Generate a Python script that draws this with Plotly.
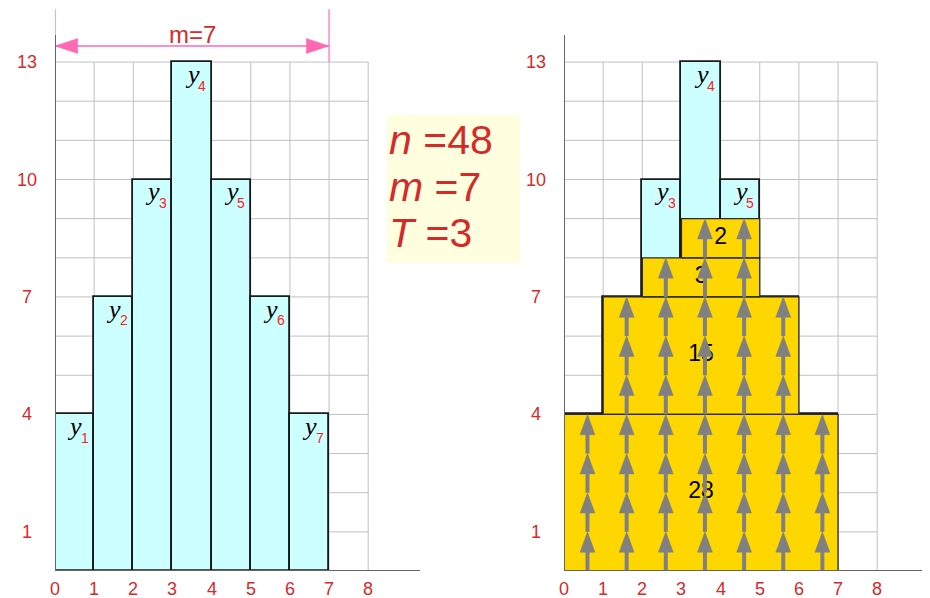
import plotly.graph_objects as go

# ---- data ----
bar_left = [0, 1, 2, 3, 4, 5, 6]
bar_heights = [4, 7, 10, 13, 10, 7, 4]
bar_names = ["1", "2", "3", "4", "5", "6", "7"]

layer_bottom = [0, 4, 7, 8]
layer_top = [4, 7, 8, 9]
layer_left = [0, 1, 2, 3]
layer_right = [7, 6, 5, 5]
layer_counts = [28, 15, 3, 2]
layer_label_x = [3.5, 3.5, 3.5, 4.0]

x_ticks = [0, 1, 2, 3, 4, 5, 6, 7, 8]
y_ticks = [1, 4, 7, 10, 13]
grid_x_max = 8
grid_y_max = 13

n_val, m_val, T_val = 48, 7, 3

# ---- style ----
OFF = 8                      # page body margin
W, H = 930 - OFF, 598 - OFF  # figure size
U = 39.15                    # pixels per unit
Y0 = 571 - OFF               # pixel of y=0 (figure coords)
LX0, RX0 = 55 - OFF, 564 - OFF
LXR = 420 - OFF              # right end of left axis
RED = "#d42a2a"
SUBRED = "#ff2020"
GRID = "#c0c0c0"
AXIS = "#666666"
CYAN = "#ccffff"
GOLD = "#ffd700"
ARROW = "#808080"
PINK = "#ff69b4"
FONT = "Liberation Sans"
SERIF = "Liberation Serif"


def px_y(p):
    """reference pixel row -> paper fraction"""
    return (H - (p - OFF)) / H


def px_x(p):
    return (p - OFF) / W


fig = go.Figure()

# cyan bars in both panels
for xa, ya in (("x", "y"), ("x2", "y2")):
    fig.add_trace(go.Bar(
        x=[b + 0.5 for b in bar_left], y=bar_heights, width=1,
        marker=dict(color=CYAN, line=dict(color="#1a1a1a", width=1.8)),
        xaxis=xa, yaxis=ya, showlegend=False, hoverinfo="skip"))

# gold layers (right panel)
gx, gy = [], []
for b, t, l, r in zip(layer_bottom, layer_top, layer_left, layer_right):
    gx += [l, r, r, l, l, None]
    gy += [b, b, t, t, b, None]
fig.add_trace(go.Scatter(x=gx, y=gy, mode="lines", fill="toself", fillcolor=GOLD,
                         line=dict(color="#2a2a2a", width=1.3),
                         xaxis="x2", yaxis="y2", showlegend=False, hoverinfo="skip"))

# layer counts
fig.add_trace(go.Scatter(
    x=layer_label_x, y=[(b + t) / 2 for b, t in zip(layer_bottom, layer_top)],
    mode="text", text=[str(c) for c in layer_counts],
    textfont=dict(family=FONT, size=23, color="black"),
    xaxis="x2", yaxis="y2", showlegend=False, hoverinfo="skip"))

# column heights of the gold stack
col_top = []
for i, l0 in enumerate(bar_left):
    top = 0
    for b, t, l, r in zip(layer_bottom, layer_top, layer_left, layer_right):
        if l <= l0 and l0 + 1 <= r:
            top = max(top, t)
    col_top.append(top)

# arrows
hl, hw = 0.52, 0.19
sx, sy, hx, hy = [], [], [], []
for l0, top in zip(bar_left, col_top):
    xc = l0 + 0.6
    for k in range(top):
        sx += [xc, xc, None]
        sy += [k, k + 1 - hl + 0.05, None]
        hx += [xc - hw, xc + hw, xc, xc - hw, None]
        hy += [k + 1 - hl, k + 1 - hl, k + 1, k + 1 - hl, None]
fig.add_trace(go.Scatter(x=sx, y=sy, mode="lines", line=dict(color=ARROW, width=4),
                         xaxis="x2", yaxis="y2", showlegend=False, hoverinfo="skip"))
fig.add_trace(go.Scatter(x=hx, y=hy, mode="lines", fill="toself", fillcolor=ARROW,
                         line=dict(color=ARROW, width=0.5),
                         xaxis="x2", yaxis="y2", showlegend=False, hoverinfo="skip"))

# pink dimension arrow (left panel)
ym = 13.41
ahl, ahw = 0.58, 0.19
fig.add_trace(go.Scatter(x=[0, 7], y=[ym, ym], mode="lines", line=dict(color=PINK, width=1.5),
                         xaxis="x", yaxis="y", showlegend=False, hoverinfo="skip"))
fig.add_trace(go.Scatter(
    x=[0, ahl, ahl, 0, None, 7, 7 - ahl, 7 - ahl, 7],
    y=[ym, ym + ahw, ym - ahw, ym, None, ym, ym + ahw, ym - ahw, ym],
    mode="lines", fill="toself", fillcolor=PINK, line=dict(color=PINK, width=0.5),
    xaxis="x", yaxis="y", showlegend=False, hoverinfo="skip"))
fig.add_trace(go.Scatter(x=[0, 0, None, 7, 7], y=[13, 14.35, None, 13, 14.35], mode="lines",
                         line=dict(color=PINK, width=1.2),
                         xaxis="x", yaxis="y", showlegend=False, hoverinfo="skip"))

shapes = []
annotations = []
for xr, yr, x0px in (("x", "y", LX0), ("x2", "y2", RX0)):
    # grid
    for gxv in range(0, grid_x_max + 1):
        shapes.append(dict(type="line", xref=xr, yref=yr, x0=gxv, x1=gxv, y0=0, y1=grid_y_max,
                           line=dict(color=GRID, width=1), layer="below"))
    for gyv in range(0, grid_y_max + 1):
        shapes.append(dict(type="line", xref=xr, yref=yr, x0=0, x1=grid_x_max, y0=gyv, y1=gyv,
                           line=dict(color=GRID, width=1), layer="below"))
    # axis lines
    shapes.append(dict(type="line", xref=xr, yref=yr, x0=0, x1=9.4, y0=0, y1=0,
                       line=dict(color=AXIS, width=2), layer="above"))
    shapes.append(dict(type="line", xref=xr, yref=yr, x0=0, x1=0, y0=0, y1=(571 - 35) / U,
                       line=dict(color=AXIS, width=2), layer="above"))
    # tick labels
    for t in x_ticks:
        annotations.append(dict(x=t, y=px_y(588.5), xref=xr, yref="paper", text=str(t),
                                showarrow=False, xanchor="center", yanchor="middle",
                                borderpad=0,
                                font=dict(family=FONT, size=18, color=RED)))
    for t in y_ticks:
        annotations.append(dict(x=(x0px - 28) / W, y=t, xref="paper", yref=yr, text=str(t),
                                showarrow=False, xanchor="center", yanchor="middle",
                                font=dict(family=FONT, size=18, color=RED)))


# y_i labels: italic serif "y" plus a small red subscript index
def add_ylabel(xr, yr, l0, h, nm):
    annotations.append(dict(x=l0 + 0.5, y=h - 0.31, xref=xr, yref=yr, text="<i>y</i>",
                            showarrow=False, xanchor="center", yanchor="middle",
                            font=dict(family=SERIF, size=26, color="black")))
    annotations.append(dict(x=l0 + 0.76, y=h - 0.6, xref=xr, yref=yr, text=nm,
                            showarrow=False, xanchor="center", yanchor="middle",
                            font=dict(family=FONT, size=14, color=SUBRED)))


for l0, h, nm, top in zip(bar_left, bar_heights, bar_names, col_top):
    add_ylabel("x", "y", l0, h, nm)
    if h > top:
        add_ylabel("x2", "y2", l0, h, nm)

# m=7 label
annotations.append(dict(x=3.5, y=(571 - 34) / U, xref="x", yref="y", text="m=" + str(m_val),
                        showarrow=False, xanchor="center", yanchor="middle",
                        font=dict(family=FONT, size=24, color=RED)))

# info box
shapes.append(dict(type="rect", xref="paper", yref="paper",
                   x0=px_x(387), x1=px_x(520), y0=px_y(263), y1=px_y(115),
                   fillcolor="#ffffe0", line=dict(width=0), layer="below"))
for sym, val, ypx in (("n", n_val, 140), ("m", m_val, 187), ("T", T_val, 233)):
    annotations.append(dict(x=px_x(387), y=px_y(ypx), xref="paper", yref="paper",
                            text="<i>" + sym + "</i> =" + str(val), showarrow=False,
                            xanchor="left", yanchor="middle",
                            font=dict(family=FONT, size=41, color=RED)))

ax_common = dict(showgrid=False, zeroline=False, showticklabels=False, showline=False,
                 ticks="", fixedrange=True)
fig.update_layout(
    width=W, height=H, margin=dict(l=0, r=0, t=0, b=0),
    paper_bgcolor="white", plot_bgcolor="white", barmode="overlay", bargap=0,
    showlegend=False,
    xaxis=dict(domain=[LX0 / W, LXR / W], range=[0, (LXR - LX0) / U], anchor="y", **ax_common),
    xaxis2=dict(domain=[RX0 / W, 1], range=[0, (W - RX0) / U], anchor="y2", **ax_common),
    yaxis=dict(domain=[(H - Y0) / H, 1], range=[0, Y0 / U], anchor="x", **ax_common),
    yaxis2=dict(domain=[(H - Y0) / H, 1], range=[0, Y0 / U], anchor="x2", **ax_common),
    shapes=shapes, annotations=annotations,
)

fig.write_html("out.html")
